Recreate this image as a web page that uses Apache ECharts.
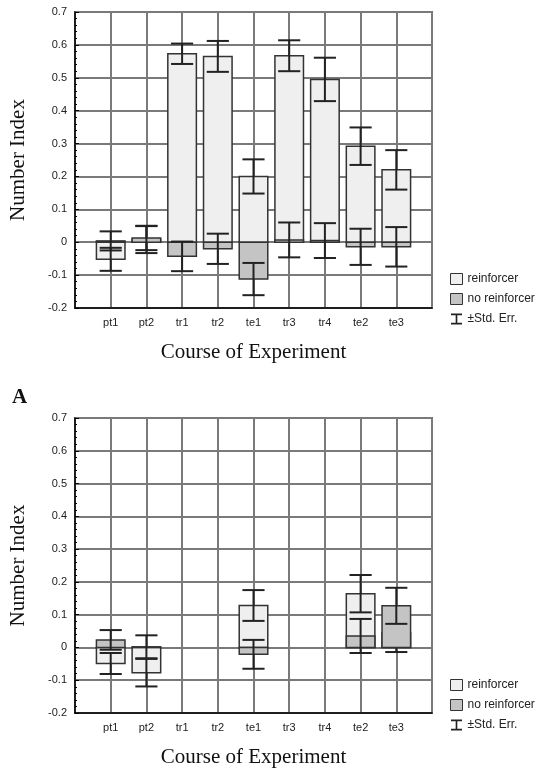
<!DOCTYPE html>
<html>
<head>
<meta charset="utf-8">
<title>Number Index</title>
<script src="https://cdn.jsdelivr.net/npm/echarts@6/dist/echarts.min.js"></script>
<style>
  html, body { margin: 0; padding: 0; background: #fff; }
  #chart { width: 549px; height: 769px; }
</style>
</head>
<body>
<div id="chart"></div>
<script>
// categories along the course of the experiment
const categories = ['pt1', 'pt2', 'tr1', 'tr2', 'te1', 'tr3', 'tr4', 'te2', 'te3']

// panel A (top)
const reinfMeanA = [-0.052, 0.008, 0.573, 0.565, 0.200, 0.567, 0.495, 0.292, 0.220]
const reinfSeA = [0.035, 0.041, 0.031, 0.047, 0.052, 0.047, 0.066, 0.057, 0.060]
const noReinfMeanA = [0.004, 0.013, -0.043, -0.020, -0.112, 0.007, 0.005, -0.014, -0.014]
const noReinfSeA = [0.029, 0.037, 0.045, 0.046, 0.049, 0.053, 0.053, 0.055, 0.060]

// panel B (bottom)
const reinfMeanB = [-0.049, -0.077, null, null, 0.128, null, null, 0.164, 0.045]
const reinfSeB = [0.032, 0.042, null, null, 0.047, null, null, 0.057, 0.059]
const noReinfMeanB = [0.023, 0.002, null, null, -0.021, null, null, 0.035, 0.127]
const noReinfSeB = [0.030, 0.035, null, null, 0.044, null, null, 0.052, 0.055]

const LIGHT = '#efefef'
const DARK = '#c4c4c4'
const GRID = '#7a7a7a'

function toData(means, ses) {
  const out = []
  means.forEach((m, i) => {
    if (m !== null) out.push([i + 1, m, ses[i]])
  })
  return out
}

function makeRender(fill) {
  return function (params, api) {
    const x = api.value(0)
    const m = api.value(1)
    const se = api.value(2)
    const p0 = api.coord([x, 0])
    const pm = api.coord([x, m])
    const hi = api.coord([x, m + se])
    const lo = api.coord([x, m - se])
    const w = api.size([0.8, 0])[0]
    const cap = api.size([0.62, 0])[0]
    const errStyle = { stroke: '#222', lineWidth: 2 }
    return {
      type: 'group',
      children: [
        {
          type: 'rect',
          shape: { x: p0[0] - w / 2, y: Math.min(p0[1], pm[1]), width: w, height: Math.abs(pm[1] - p0[1]) },
          style: { fill: fill, stroke: '#333', lineWidth: 1.5 }
        },
        { type: 'line', shape: { x1: hi[0], y1: hi[1], x2: lo[0], y2: lo[1] }, style: errStyle },
        { type: 'line', shape: { x1: hi[0] - cap / 2, y1: hi[1], x2: hi[0] + cap / 2, y2: hi[1] }, style: errStyle },
        { type: 'line', shape: { x1: lo[0] - cap / 2, y1: lo[1], x2: lo[0] + cap / 2, y2: lo[1] }, style: errStyle }
      ]
    }
  }
}

function xAxisFor(gridIndex) {
  return {
    type: 'value',
    gridIndex: gridIndex,
    min: 0,
    max: 10,
    interval: 1,
    name: 'Course of Experiment',
    nameLocation: 'middle',
    nameGap: 34,
    nameTextStyle: { fontFamily: 'Liberation Serif', fontSize: 21, color: '#111' },
    axisLine: { show: true, onZero: false, lineStyle: { color: '#000', width: 1.5 } },
    axisTick: { show: false },
    axisLabel: {
      fontFamily: 'Liberation Sans',
      fontSize: 11,
      color: '#222',
      margin: 9,
      formatter: v => categories[v - 1] || ''
    },
    splitLine: { show: true, lineStyle: { color: GRID, width: 2 } }
  }
}

function yAxisFor(gridIndex) {
  return {
    type: 'value',
    gridIndex: gridIndex,
    min: -0.2,
    max: 0.7,
    interval: 0.1,
    name: 'Number Index',
    nameLocation: 'middle',
    nameGap: 46,
    nameTextStyle: { fontFamily: 'Liberation Serif', fontSize: 21, color: '#111' },
    axisLine: { show: true, onZero: false, lineStyle: { color: '#000', width: 1.5 } },
    axisTick: { show: true, inside: true, length: 4, lineStyle: { color: '#000' } },
    minorTick: { show: true, splitNumber: 5, length: 2, lineStyle: { color: '#000' } },
    axisLabel: {
      fontFamily: 'Liberation Sans',
      fontSize: 11,
      color: '#222',
      margin: 8,
      formatter: v => (Math.abs(v) < 1e-9 ? '0' : String(Math.round(v * 10) / 10))
    },
    splitLine: { show: true, lineStyle: { color: GRID, width: 2 } }
  }
}

function legendAt(top) {
  return {
    orient: 'vertical',
    left: 445,
    top: top,
    itemWidth: 12,
    itemHeight: 11,
    itemGap: 8,
    selectedMode: false,
    textStyle: { fontFamily: 'Liberation Sans', fontSize: 12, color: '#222' },
    data: [
      { name: 'reinforcer', icon: 'rect', itemStyle: { color: LIGHT, borderColor: '#333', borderWidth: 1 } },
      { name: 'no reinforcer', icon: 'rect', itemStyle: { color: DARK, borderColor: '#333', borderWidth: 1 } },
      {
        name: '±Std. Err.',
        icon: 'path://M0,0H10V1.5H5.75V8.5H10V10H0V8.5H4.25V1.5H0Z',
        itemStyle: { color: '#222', borderWidth: 0 }
      }
    ]
  }
}

const chart = echarts.init(document.getElementById('chart'), null, { renderer: 'canvas' })

chart.setOption({
  animation: false,
  backgroundColor: '#fff',
  grid: [
    { left: 72, top: 12, width: 360, height: 296, show: true, borderColor: '#000', borderWidth: 1.5 },
    { left: 72, top: 418, width: 360, height: 295, show: true, borderColor: '#000', borderWidth: 1.5 }
  ],
  xAxis: [xAxisFor(0), xAxisFor(1)],
  yAxis: [yAxisFor(0), yAxisFor(1)],
  legend: [legendAt(268), legendAt(674)],
  graphic: [
    {
      type: 'text',
      left: 12,
      top: 387,
      style: { text: 'A', font: 'bold 21px "Liberation Serif"', fill: '#111' }
    }
  ],
  series: [
    // top panel
    {
      name: 'reinforcer', type: 'custom', xAxisIndex: 0, yAxisIndex: 0,
      itemStyle: { color: LIGHT }, renderItem: makeRender(LIGHT),
      data: toData(reinfMeanA, reinfSeA), clip: true
    },
    {
      name: 'no reinforcer', type: 'custom', xAxisIndex: 0, yAxisIndex: 0,
      itemStyle: { color: DARK }, renderItem: makeRender(DARK),
      data: toData(noReinfMeanA, noReinfSeA), clip: true
    },
    // bottom panel
    {
      name: 'reinforcer', type: 'custom', xAxisIndex: 1, yAxisIndex: 1,
      itemStyle: { color: LIGHT }, renderItem: makeRender(LIGHT),
      data: toData(reinfMeanB, reinfSeB), clip: true
    },
    {
      name: 'no reinforcer', type: 'custom', xAxisIndex: 1, yAxisIndex: 1,
      itemStyle: { color: DARK }, renderItem: makeRender(DARK),
      data: toData(noReinfMeanB, noReinfSeB), clip: true
    },
    // placeholder so the error-bar legend entry exists
    {
      name: '±Std. Err.', type: 'custom', xAxisIndex: 0, yAxisIndex: 0,
      itemStyle: { color: '#222' }, renderItem: makeRender(DARK), data: []
    }
  ]
})
</script>
</body>
</html>
